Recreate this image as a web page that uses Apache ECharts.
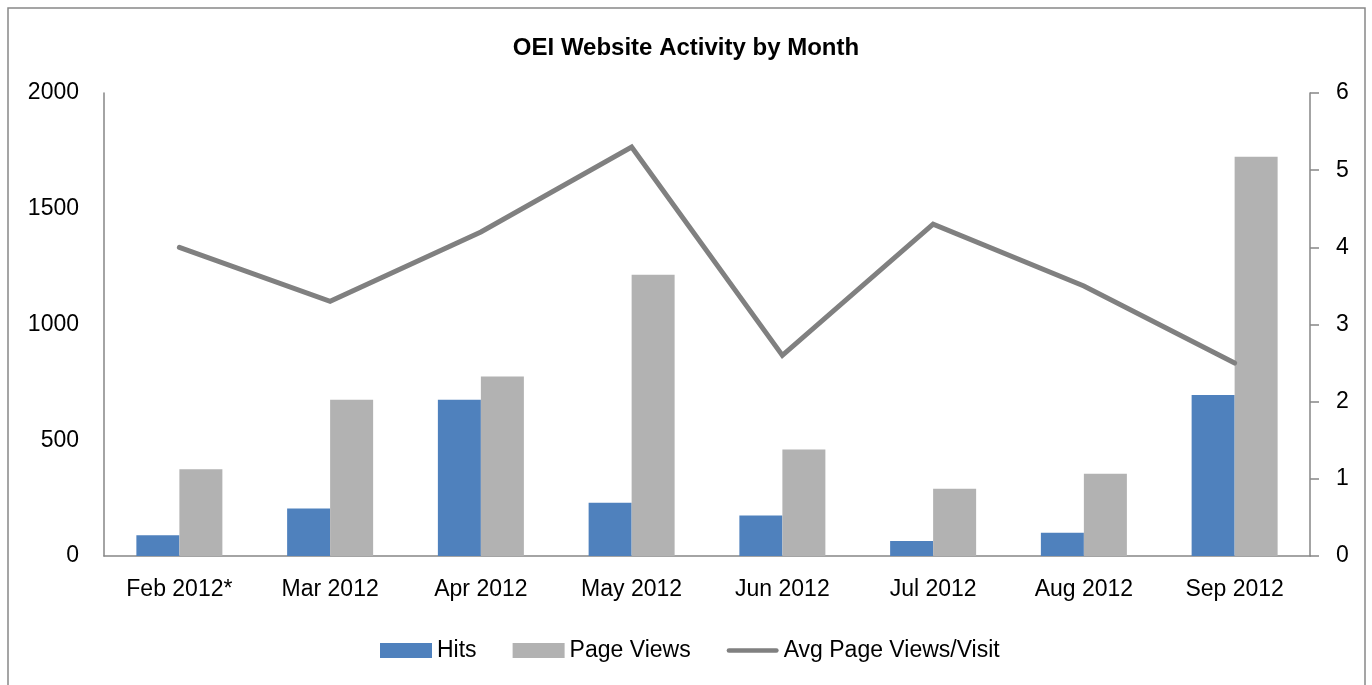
<!DOCTYPE html>
<html>
<head>
    <meta charset="utf-8">
    <title>OEI Website Activity by Month</title>
    <script src="https://cdn.jsdelivr.net/npm/echarts@6/dist/echarts.min.js"></script>
    <style>
        body { margin: 0; background: #fff; }
        #main { width: 1372px; height: 685px; }
    </style>
</head>
<body>
    <div id="main"></div>
    <script type="text/javascript">
        // data
        const months = ['Feb 2012*', 'Mar 2012', 'Apr 2012', 'May 2012', 'Jun 2012', 'Jul 2012', 'Aug 2012', 'Sep 2012'];
        const hits = [90, 205, 675, 230, 175, 65, 100, 695];
        const pageViews = [375, 675, 775, 1215, 460, 290, 355, 1725];
        const avgPerVisit = [4.0, 3.3, 4.2, 5.3, 2.6, 4.3, 3.5, 2.5];

        const font = '"Liberation Sans", Arial, sans-serif';
        const axisGray = '#868686';

        var myChart = echarts.init(document.getElementById('main'));

        var option = {
            backgroundColor: '#fff',
            animation: false,
            textStyle: { fontFamily: font },
            title: {
                text: 'OEI Website Activity by Month',
                left: 'center',
                top: 31,
                textStyle: { color: '#000', fontSize: 24, fontWeight: 'bold', fontFamily: font }
            },
            graphic: {
                elements: [{
                    type: 'rect',
                    shape: { x: 8, y: 8, width: 1357, height: 720 },
                    style: { fill: 'none', stroke: '#888', lineWidth: 1.5 },
                    silent: true
                }]
            },
            legend: {
                left: 375,
                top: 634,
                itemWidth: 52,
                itemHeight: 15,
                itemGap: 36,
                textStyle: { color: '#000', fontSize: 23, fontFamily: font },
                data: [
                    { name: 'Hits', icon: 'rect' },
                    { name: 'Page Views', icon: 'rect' },
                    { name: 'Avg Page Views/Visit', icon: 'path://M2.5,0 L54.5,0 A2.5,2.5 0 0 1 54.5,5 L2.5,5 A2.5,2.5 0 0 1 2.5,0 Z' }
                ]
            },
            grid: {
                left: 104,
                right: 62,
                top: 93,
                bottom: 129,
                containLabel: false
            },
            xAxis: {
                type: 'category',
                data: months,
                axisLine: { lineStyle: { color: axisGray, width: 1.5 } },
                axisTick: { show: false },
                axisLabel: { color: '#000', fontSize: 23, fontFamily: font, margin: 22, interval: 0 }
            },
            yAxis: [
                {
                    type: 'value',
                    min: 0,
                    max: 2000,
                    interval: 500,
                    axisLine: { show: true, lineStyle: { color: axisGray, width: 1.5 } },
                    axisTick: { show: false },
                    splitLine: { show: false },
                    axisLabel: { color: '#000', fontSize: 23, fontFamily: font, margin: 25, formatter: v => String(v) }
                },
                {
                    type: 'value',
                    min: 0,
                    max: 6,
                    interval: 1,
                    position: 'right',
                    axisLine: { show: true, lineStyle: { color: axisGray, width: 1.5 } },
                    axisTick: { show: true, length: 9, lineStyle: { color: axisGray, width: 1.5 } },
                    splitLine: { show: false },
                    axisLabel: { color: '#000', fontSize: 23, fontFamily: font, margin: 26 }
                }
            ],
            series: [
                {
                    name: 'Hits',
                    type: 'bar',
                    data: hits,
                    barWidth: 43,
                    barGap: '0%',
                    itemStyle: { color: '#4F81BD' }
                },
                {
                    name: 'Page Views',
                    type: 'bar',
                    data: pageViews,
                    barWidth: 43,
                    barGap: '0%',
                    itemStyle: { color: '#B2B2B2' }
                },
                {
                    name: 'Avg Page Views/Visit',
                    type: 'line',
                    yAxisIndex: 1,
                    data: avgPerVisit,
                    symbol: 'none',
                    z: 5,
                    lineStyle: { color: '#808080', width: 5, cap: 'round', join: 'miter' },
                    itemStyle: { color: '#808080' }
                }
            ]
        };

        myChart.setOption(option);
    </script>
</body>
</html>
